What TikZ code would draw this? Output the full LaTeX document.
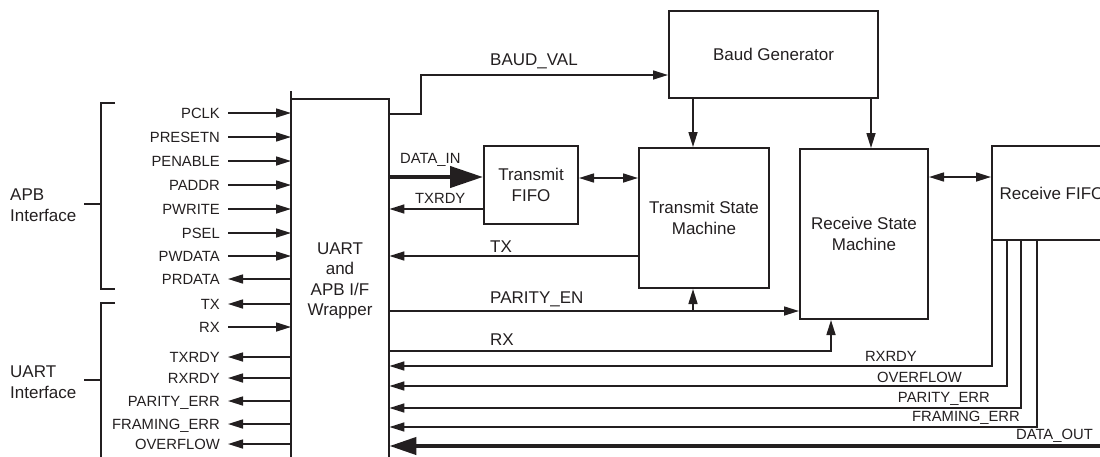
\documentclass[tikz,border=0pt]{standalone}
\usepackage{fontspec}
\setmainfont{Liberation Sans}
\usetikzlibrary{arrows.meta,calc}
\definecolor{ink}{HTML}{231F20}
\tikzset{
  box/.style={draw=ink, line width=2pt, inner sep=0pt},
  wline/.style={draw=ink, line width=2pt},
  conn/.style={draw=ink, line width=1.6pt},
  bus/.style={draw=ink, line width=4.2pt},
  arr/.style={-{Triangle[length=15pt,width=9pt]}},
  darr/.style={{Triangle[length=15pt,width=9pt]}-{Triangle[length=15pt,width=9pt]}},
  busin/.style={-{Triangle[length=33pt,width=21pt]}},
  busout/.style={-{Triangle[length=27pt,width=17pt]}},
  lab17/.style={font=\fontsize{17}{20.5}\selectfont, text=ink},
  pinlab/.style={font=\fontsize{14.8}{17}\selectfont, text=ink, inner sep=0pt, text height=10.6pt, text depth=0pt},
}
\begin{document}
\begin{tikzpicture}[x=1pt,y=-1pt]
\path[use as bounding box] (0,0) rectangle (1100,456);
\clip (0,0) rectangle (1100,456);

% boxes
\node[box, lab17, minimum width=209pt, minimum height=87pt] (baud) at (773.5,54.5) {Baud Generator};
\node[box, lab17, align=center, minimum width=94pt, minimum height=78pt] (tfifo) at (531,185) {Transmit\\FIFO};
\node[box, lab17, align=center, minimum width=130pt, minimum height=140pt] (tsm) at (704,218) {Transmit State\\Machine};
\node[box, lab17, align=center, minimum width=128pt, minimum height=170pt] (rsm) at (864,234) {Receive State\\Machine};
\node[box, lab17, minimum width=120pt, minimum height=94pt] (rfifo) at (1052,193) {Receive FIFO};

% wrapper (open at the bottom)
\node[minimum width=98pt, minimum height=380pt, inner sep=0pt, anchor=north west] (wrap) at (291,99) {};
\draw[wline] ([yshift=8pt]wrap.north west) -- (wrap.south west);
\draw[wline] (wrap.north west) -- (wrap.north east) -- (wrap.south east);
\node[lab17, align=center] (wtext) at (340,281) {UART\\and\\APB I/F\\Wrapper};

% brackets
\draw[wline] (115,103) -- (101,103) -- (101,289) -- (115,289);
\draw[wline] (84,204) -- (101,204);
\draw[wline] (115,303) -- (101,303) -- (101,470);
\draw[wline] (84,380) -- (101,380);
\node[lab17, align=left, anchor=west, inner sep=0pt] (apb) at (10,205) {APB\\Interface};
\node[lab17, align=left, anchor=west, inner sep=0pt] (uart) at (10,382) {UART\\Interface};

% left pins
\foreach \t/\y [count=\i] in {PCLK/113, PRESETN/137, PENABLE/161, PADDR/185, PWRITE/209, PSEL/233, PWDATA/256, RX/327}{
  \node[pinlab, anchor=east] (pi\i) at (220,\y) {\t};
  \draw[conn, arr] ([xshift=8pt]pi\i.east) -- (pi\i.east -| wrap.west);
}
\foreach \t/\y [count=\i] in {PRDATA/279, TX/304, TXRDY/357, RXRDY/378, PARITY\_ERR/401, FRAMING\_ERR/424, OVERFLOW/444}{
  \node[pinlab, anchor=east] (po\i) at (220,\y) {\t};
  \draw[conn, arr] (po\i.east -| wrap.west) -- ([xshift=8pt]po\i.east);
}

% levels
\coordinate (yBV) at (0,114);
\coordinate (kBV) at (421,75);
\coordinate (xA) at (693,0);
\coordinate (xB) at (871,0);
\coordinate (yDI) at (177,177);
\coordinate (yTR) at (0,209);
\coordinate (yFF) at (0,178);
\coordinate (yRF) at (0,177);
\coordinate (yTX) at (0,256);
\coordinate (yPE) at (0,311);
\coordinate (yRX) at (0,351);
\coordinate (xRX) at (831,0);
\coordinate (dout) at (1104,446);

% internal connectors
\draw[conn, arr] (wrap.east |- yBV) -| (kBV) -- (baud.west |- kBV);
\node[lab17, inner sep=0pt, anchor=base west] (lBV) at (490,65) {BAUD\_VAL};
\draw[conn, arr] (baud.south -| xA) -- (tsm.north -| xA);
\draw[conn, arr] (baud.south -| xB) -- (rsm.north -| xB);

\draw[bus, busin] (wrap.east |- yDI) -- (tfifo.west |- yDI);
\node[pinlab, anchor=base west] (lDI) at (400,163) {DATA\_IN};
\draw[conn, arr] (tfifo.west |- yTR) -- (wrap.east |- yTR);
\node[pinlab, anchor=base west] (lTR) at (415,203) {TXRDY};
\draw[conn, darr] (tfifo.east |- yFF) -- (tsm.west |- yFF);

\draw[conn, arr] (tsm.west |- yTX) -- (wrap.east |- yTX);
\node[lab17, inner sep=0pt, anchor=base west] (lTX) at (490,252) {TX};

\draw[conn, arr] (wrap.east |- yPE) -- (rsm.west |- yPE);
\draw[conn, arr] (xA |- yPE) -- (tsm.south -| xA);
\node[lab17, inner sep=0pt, anchor=base west] (lPE) at (490,303) {PARITY\_EN};

\draw[conn, arr] (wrap.east |- yRX) -| (rsm.south -| xRX);
\node[lab17, inner sep=0pt, anchor=base west] (lRX) at (490,345) {RX};

\draw[conn, darr] (rsm.east |- yRF) -- (rfifo.west |- yRF);

% receive FIFO status lines
\foreach \x/\y/\t/\lx/\ly [count=\i] in {992/366/RXRDY/917/361, 1007/386/OVERFLOW/962/382, 1021/408/PARITY\_ERR/990/402, 1037/427/FRAMING\_ERR/1020/421}{
  \coordinate (rx\i) at (\x,\y);
  \draw[conn, arr] (rfifo.south -| rx\i) |- (wrap.east |- rx\i);
  \node[pinlab, anchor=base east] (rl\i) at (\lx,\ly) {\t};
}
\draw[bus, busout] (dout) -- (wrap.east |- dout);
\node[pinlab, anchor=base east] (lDO) at (1093,439.5) {DATA\_OUT};
\end{tikzpicture}
\end{document}
